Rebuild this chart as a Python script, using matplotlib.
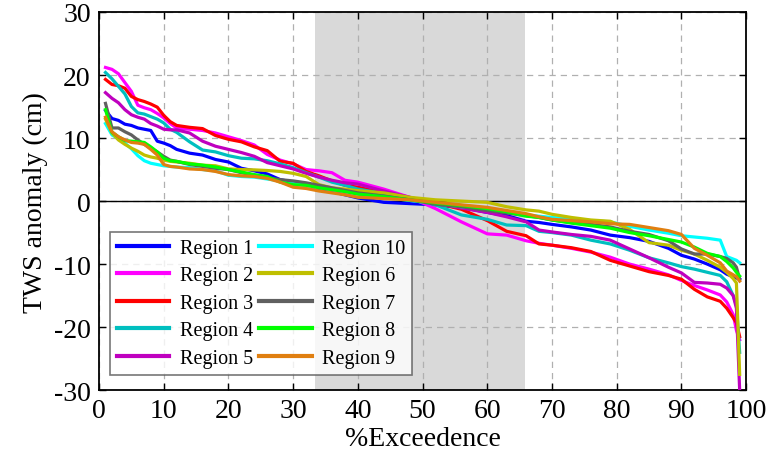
import matplotlib
matplotlib.use("Agg")
import matplotlib.pyplot as plt

plt.rcParams['font.family'] = ['Liberation Serif', 'DejaVu Serif']
plt.rcParams['axes.unicode_minus'] = False

exceedance = [1, 2, 3, 4, 5, 6, 7, 8, 9, 10, 11, 12, 14, 16, 18, 20, 22, 24, 26, 28,
              30, 32, 34, 36, 38, 40, 44, 48, 52, 56, 60, 63, 66, 68, 70, 73, 76, 79,
              82, 85, 88, 90, 92, 94, 96, 97, 98, 98.5, 99]

region1 = [14.4, 13.1, 12.8, 12.2, 12.0, 11.6, 11.4, 11.2, 9.5, 9.2, 8.8, 8.2, 7.6, 7.3, 6.6, 6.2,
           5.2, 4.8, 4.3, 3.4, 3.0, 2.5, 2.0, 1.5, 1.0, 0.5, -0.2, -0.4, -0.6, -1.0, -1.8, -2.3,
           -3.2, -3.4, -3.7, -4.1, -4.6, -5.4, -5.8, -6.4, -7.5, -8.6, -9.2, -10.0, -10.9, -11.6,
           -12.0, -12.2, -12.4]
region2 = [21.2, 20.9, 20.2, 18.8, 17.4, 15.2, 14.8, 14.5, 13.9, 13.2, 12.3, 11.6, 11.4, 11.2, 10.8,
           10.2, 9.6, 8.9, 7.4, 6.5, 5.9, 5.0, 4.8, 4.5, 3.3, 3.0, 1.9, 0.6, -1.2, -3.3, -5.2, -5.4,
           -6.3, -6.7, -7.0, -7.5, -8.1, -8.9, -10.0, -10.8, -11.7, -12.6, -13.4, -14.1, -14.9,
           -16.0, -18.0, -20.5, -22.0]
region3 = [19.3, 18.5, 18.3, 17.9, 16.6, 16.1, 15.8, 15.4, 14.9, 13.6, 12.6, 12.0, 11.7, 11.5, 10.4,
           9.8, 9.4, 8.6, 8.0, 6.3, 6.0, 4.7, 4.0, 3.2, 2.5, 2.2, 1.3, 0.4, -0.3, -1.3, -3.1, -4.8,
           -5.5, -6.8, -7.0, -7.4, -8.0, -9.4, -10.3, -11.2, -11.8, -12.4, -14.0, -15.2, -15.9,
           -17.0, -18.5, -19.3, -21.5]
region4 = [20.4, 19.4, 18.2, 17.0, 15.0, 14.0, 13.8, 13.4, 13.0, 12.4, 11.4, 10.9, 9.4, 8.1, 7.8,
           7.2, 6.8, 6.7, 6.4, 5.9, 5.3, 4.5, 3.8, 3.0, 2.5, 1.9, 1.2, 0.4, -0.6, -2.2, -2.9, -3.8,
           -3.9, -4.8, -5.0, -5.4, -6.2, -6.8, -7.8, -9.0, -9.8, -10.4, -10.8, -11.3, -11.8,
           -12.8, -15.0, -16.5, -24.0]
region5 = [17.2, 16.3, 15.6, 14.5, 13.7, 13.3, 13.0, 12.3, 11.9, 11.4, 11.3, 11.3, 10.8, 9.5, 8.7,
           8.2, 7.7, 7.1, 6.1, 5.6, 5.1, 4.4, 3.8, 3.3, 2.9, 2.7, 1.6, 0.6, -0.4, -1.1, -1.8, -2.5,
           -3.3, -4.6, -4.9, -5.3, -5.6, -6.2, -7.6, -9.0, -10.5, -11.4, -12.9, -13.0, -13.2,
           -13.8, -15.0, -17.0, -30.0]
region6 = [13.0, 10.8, 9.7, 9.0, 8.4, 7.9, 7.3, 7.0, 6.8, 6.5, 6.3, 6.2, 6.0, 5.7, 5.6, 5.1, 5.0,
           4.95, 4.85, 4.7, 4.4, 3.9, 2.6, 2.1, 1.9, 1.65, 1.3, 0.6, 0.2, 0.0, -0.2, -0.9, -1.4,
           -1.6, -2.1, -2.6, -3.0, -3.2, -4.5, -6.6, -7.0, -7.8, -8.4, -9.4, -10.5, -11.3, -12.3,
           -13.0, -27.5]
region7 = [15.5, 11.6, 11.6, 11.0, 10.5, 9.7, 9.0, 8.4, 7.8, 7.1, 6.5, 6.3, 5.8, 5.5, 5.2, 5.0,
           4.5, 4.1, 3.7, 3.4, 3.2, 2.9, 2.5, 2.1, 1.7, 1.3, 0.8, 0.2, -0.5, -0.9, -1.5, -1.9, -2.3,
           -2.6, -3.0, -3.4, -3.7, -4.1, -4.8, -5.3, -6.3, -7.6, -8.4, -8.4, -8.8, -9.1, -9.8,
           -10.5, -12.4]
region8 = [14.5, 10.9, 10.2, 9.6, 9.5, 9.4, 9.3, 8.6, 7.8, 6.8, 6.4, 6.3, 5.9, 5.7, 5.4, 5.0, 4.6,
           4.2, 3.9, 3.0, 2.6, 2.5, 2.1, 1.8, 1.5, 1.1, 0.7, 0.2, -0.3, -0.7, -1.2, -1.7, -2.4, -2.6,
           -3.0, -3.5, -3.9, -4.3, -5.0, -5.5, -6.1, -6.5, -7.3, -8.3, -8.8, -9.6, -10.6, -11.3,
           -11.9]
region9 = [13.3, 11.0, 10.2, 9.7, 9.3, 9.2, 9.0, 8.2, 7.3, 5.8, 5.5, 5.4, 5.1, 5.0, 4.7, 4.2, 4.0,
           3.9, 3.6, 3.0, 2.2, 2.0, 1.6, 1.3, 1.0, 0.6, 0.4, 0.2, -0.2, -0.6, -1.0, -1.5, -2.0, -2.5,
           -2.9, -3.1, -3.3, -3.6, -3.7, -4.2, -4.7, -5.3, -7.5, -8.6, -9.8, -11.1, -11.7, -12.0,
           -12.7]
region10 = [12.3, 10.5, 9.9, 9.2, 8.3, 7.2, 6.4, 6.0, 5.8, 5.6, 5.5, 5.4, 5.3, 5.0, 4.8, 4.1, 3.9,
            3.8, 3.5, 3.2, 2.8, 2.4, 2.1, 1.8, 1.5, 1.1, 0.6, 0.1, -0.4, -0.9, -1.1, -1.6, -2.2,
            -2.4, -2.6, -2.8, -3.1, -3.3, -4.0, -4.6, -5.1, -5.5, -5.7, -5.9, -6.2, -8.8, -9.2,
            -9.4, -9.8]

labels = ['Region 1', 'Region 2', 'Region 3', 'Region 4', 'Region 5',
          'Region 10', 'Region 6', 'Region 7', 'Region 8', 'Region 9']
series = [region1, region2, region3, region4, region5,
          region10, region6, region7, region8, region9]
colors = ['#0000ff', '#ff00ff', '#ff0000', '#00bfbf', '#bf00bf',
          '#00ffff', '#bfbf00', '#606060', '#00ff00', '#e07f10']

xticks = [0, 10, 20, 30, 40, 50, 60, 70, 80, 90, 100]
yticks = [-30, -20, -10, 0, 10, 20, 30]
band = (33.3, 65.8)

fig = plt.figure(figsize=(7.7, 4.64), dpi=100)
ax = fig.add_axes([0.1286, 0.157, 0.8404, 0.815])

ax.axvspan(band[0], band[1], color='#d9d9d9', zorder=0, lw=0)
ax.axhline(0, color='black', lw=1.0, zorder=1)

for lab, ys, c in zip(labels, series, colors):
    ax.plot(exceedance, ys, color=c, lw=2.3, label=lab, zorder=3)

ax.set_xlim(0, 100)
ax.set_ylim(-30, 30)
ax.set_xticks(xticks)
ax.set_yticks(yticks)
ax.grid(True, linestyle=(0, (5, 4)), color='#b0b0b0', lw=0.9, zorder=0.5)
ax.set_axisbelow(True)
ax.tick_params(direction='in', top=True, right=True, labelsize=20, length=5, width=1, pad=6)
for s in ax.spines.values():
    s.set_linewidth(1.3)

ax.set_xlabel('%Exceedence', fontsize=20, labelpad=2)
ax.set_ylabel('TWS anomaly (cm)', fontsize=20, labelpad=4)

leg = ax.legend(ncol=2, loc='lower left', bbox_to_anchor=(0.017, 0.04, 0.467, 0.376),
                mode='expand', fontsize=14.5, frameon=True, fancybox=False,
                handlelength=2.6, handletextpad=0.5, columnspacing=0.6,
                labelspacing=0.42, borderpad=0.35, borderaxespad=0)
leg.get_frame().set_edgecolor('#555555')
leg.get_frame().set_linewidth(1.2)
for ln in leg.get_lines():
    ln.set_linewidth(3)

fig.savefig('out.png', dpi=100)
